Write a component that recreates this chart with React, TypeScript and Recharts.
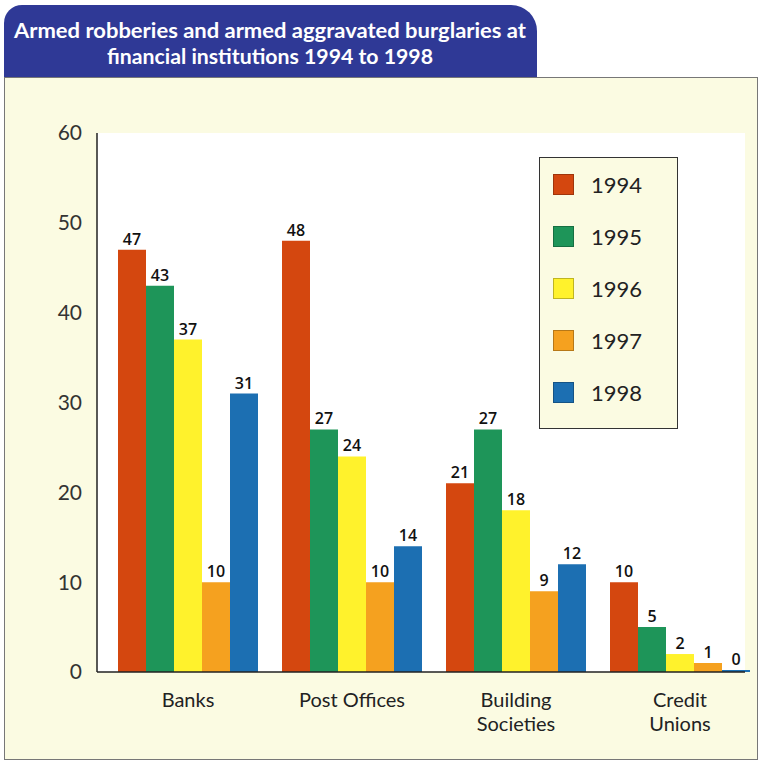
import React from "react";
import {
  Bar,
  BarChart,
  CartesianGrid,
  LabelList,
  Legend,
  XAxis,
  YAxis,
} from "recharts";

const institutions = ["Banks", "Post Offices", "Building Societies", "Credit Unions"];
const tickLines: string[][] = [["Banks"], ["Post Offices"], ["Building", "Societies"], ["Credit", "Unions"]];
const years = ["1994", "1995", "1996", "1997", "1998"];
const colors = ["#d4470f", "#1e9559", "#fff22c", "#f5a11f", "#1c6fb2"];

const v1994 = [47, 48, 21, 10];
const v1995 = [43, 27, 27, 5];
const v1996 = [37, 24, 18, 2];
const v1997 = [10, 10, 9, 1];
const v1998 = [31, 14, 12, 0];
const series = [v1994, v1995, v1996, v1997, v1998];

const yTicks = [0, 10, 20, 30, 40, 50, 60];

const titleLines = [
  "Armed robberies and armed aggravated burglaries at",
  "financial institutions 1994 to 1998",
];

const data = institutions.map((name, i) => {
  const row: Record<string, string | number> = { name };
  years.forEach((y, s) => {
    row[y] = series[s][i];
  });
  return row;
});

const tickFont = "Lato, 'Open Sans', sans-serif";

function CategoryTick(props: any) {
  const { x, y, payload } = props;
  const idx = institutions.indexOf(payload.value);
  const lines = tickLines[idx] ?? [payload.value];
  return (
    <text
      x={x}
      y={y + 27}
      textAnchor="middle"
      fill="#222"
      fontSize={20}
      fontFamily={tickFont}
    >
      {lines.map((l, i) => (
        <tspan key={i} x={x} dy={i === 0 ? 0 : 24}>
          {l}
        </tspan>
      ))}
    </text>
  );
}

function LegendBox() {
  return (
    <div
      style={{
        width: 139,
        height: 272,
        border: "1.5px solid #333",
        background: "#fbfbe2",
        boxSizing: "border-box",
      }}
    >
      {years.map((y, i) => (
        <div
          key={y}
          style={{ display: "flex", alignItems: "center", height: 52, paddingLeft: 13 }}
        >
          <span
            style={{
              width: 21,
              height: 21,
              background: colors[i],
              border: "1px solid rgba(0,0,0,0.25)",
              boxSizing: "border-box",
              display: "inline-block",
            }}
          />
          <span
            style={{
              marginLeft: 17,
              fontSize: 22,
              fontFamily: tickFont,
              color: "#222",
            }}
          >
            {y}
          </span>
        </div>
      ))}
    </div>
  );
}

export default function App() {
  return (
    <div
      style={{
        position: "absolute",
        left: 0,
        top: 0,
        width: 762,
        height: 765,
        background: "#fff",
        overflow: "hidden",
      }}
    >
      <div
        style={{
          position: "absolute",
          left: 4,
          top: 77,
          width: 754,
          height: 683,
          background: "#fbfbe2",
          border: "1px solid #777",
          boxSizing: "border-box",
        }}
      />
      <div
        style={{
          position: "absolute",
          left: 4,
          top: 5,
          width: 533,
          height: 72,
          background: "#2f3996",
          borderRadius: "18px 26px 0 0",
        }}
      >
        <svg width={533} height={72} style={{ display: "block" }}>
          <text
            x={266}
            y={33}
            textAnchor="middle"
            fill="#fff"
            fontFamily="Lato, 'DejaVu Sans', sans-serif"
            fontWeight={700}
            fontSize={21}
            textLength={512}
            lengthAdjust="spacingAndGlyphs"
          >
            {titleLines[0]}
          </text>
          <text
            x={266}
            y={59}
            textAnchor="middle"
            fill="#fff"
            fontFamily="Lato, 'DejaVu Sans', sans-serif"
            fontWeight={700}
            fontSize={21}
            textLength={326}
            lengthAdjust="spacingAndGlyphs"
          >
            {titleLines[1]}
          </text>
        </svg>
      </div>
      <div style={{ position: "absolute", left: 0, top: 0 }}>
        <BarChart
          width={762}
          height={765}
          data={data}
          margin={{ top: 133, right: 17, bottom: 33, left: 37 }}
          barCategoryGap={12}
          barGap={0}
        >
          <CartesianGrid horizontal={false} vertical={false} fill="#ffffff" />
          <XAxis
            dataKey="name"
            height={60}
            padding={{ left: 9, right: -17 }}
            tickLine={false}
            axisLine={{ stroke: "#222", strokeWidth: 1.5 }}
            tick={<CategoryTick />}
            interval={0}
          />
          <YAxis
            width={60}
            domain={[0, 60]}
            ticks={yTicks}
            tickLine={false}
            tickSize={0}
            tickMargin={15}
            axisLine={{ stroke: "#222", strokeWidth: 1.5 }}
            tick={{ fill: "#333", fontSize: 21, fontFamily: tickFont }}
          />
          <Legend
            layout="horizontal"
            verticalAlign="middle"
            content={() => <LegendBox />}
            wrapperStyle={{ left: 539, top: 157, width: 139, height: 272 }}
          />
          {years.map((y, i) => (
            <Bar
              key={y}
              dataKey={y}
              fill={colors[i]}
              minPointSize={i === years.length - 1 ? 2 : 0}
              isAnimationActive={false}
            >
              <LabelList
                dataKey={y}
                position="top"
                offset={5}
                fill="#111"
                fontSize={16}
                fontWeight={600}
                fontFamily="'Open Sans', sans-serif"
              />
            </Bar>
          ))}
        </BarChart>
      </div>
    </div>
  );
}
